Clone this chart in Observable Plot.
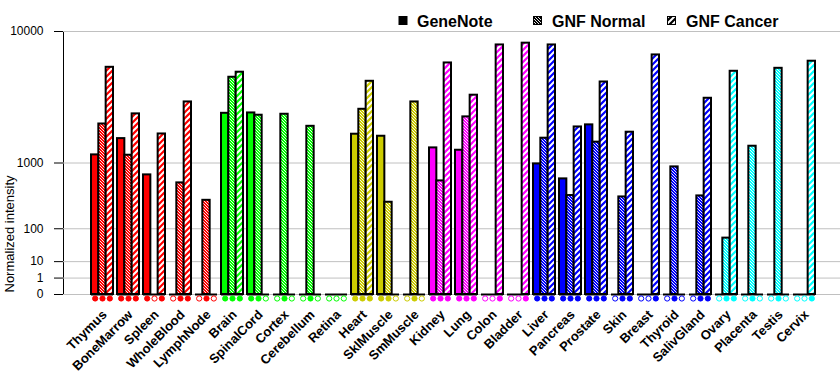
<!DOCTYPE html>
<html><head><meta charset="utf-8">
<script src="https://cdn.jsdelivr.net/npm/d3@7"></script>
<script src="https://cdn.jsdelivr.net/npm/@observablehq/plot@0.6"></script>
<style>
body{margin:0;background:#fff;}
#wrap{position:relative;width:840px;height:385px;font-family:"Liberation Sans",Arial,sans-serif;}
#wrap svg.leg{position:absolute;left:0;top:0;}
</style></head><body><div id="wrap"></div>
<script>
// ---- data ----
const tissues = ["Thymus","BoneMarrow","Spleen","WholeBlood","LymphNode","Brain","SpinalCord","Cortex","Cerebellum","Retina","Heart","SklMuscle","SmMuscle","Kidney","Lung","Colon","Bladder","Liver","Pancreas","Prostate","Skin","Breast","Thyroid","SalivGland","Ovary","Placenta","Testis","Cervix"];
const tissueColors = ["#ff0000","#ff0000","#ff0000","#ff0000","#ff0000","#00ff00","#00ff00","#00ff00","#00ff00","#00ff00","#cccc00","#cccc00","#cccc00","#ff00ff","#ff00ff","#ff00ff","#ff00ff","#0000ff","#0000ff","#0000ff","#0000ff","#0000ff","#0000ff","#0000ff","#00ffff","#00ffff","#00ffff","#00ffff"];
const geneNote  = [1220,1760,730,0,0,2900,2920,0,0,0,1930,1850,0,1435,1360,0,0,977,652,2330,0,0,0,0,0,0,0,0];
const gnfNormal = [2370,1210,0,580,330,5300,2800,2850,2265,0,3120,308,3550,615,2715,0,0,1775,389,1630,371,0,905,384,60,1490,6060,0];
const gnfCancer = [6150,2870,1940,3550,0,5720,0,0,0,0,4980,0,0,6550,3980,8400,8600,8400,2236,4925,2011,7335,0,3780,5800,0,0,6715];
// present calls (filled marker = 1, hollow = 0)
const presGeneNote  = [1,1,1,0,0,1,1,0,0,0,1,1,0,1,1,0,0,1,1,1,0,0,0,0,0,0,0,0];
const presGnfNormal = [1,1,0,1,1,1,1,1,1,0,1,1,1,1,1,0,0,1,1,1,1,0,1,1,1,1,1,0];
const presGnfCancer = [1,1,1,1,0,1,0,0,0,0,1,0,0,1,1,1,1,1,1,1,1,1,0,1,1,0,0,1];
const series = ["GeneNote","GNF Normal","GNF Cancer"];
const yTicks = [0,1,10,100,1000,10000];
const yLabel = "Normalized intensity";

// ---- patterns ----
const keyOf = c => c.replace("#","");
const defSvg = d3.create("svg").attr("width",0).attr("height",0).style("position","absolute");
const defs = defSvg.append("defs");
function addPatterns(color){
  const k = keyOf(color);
  const pn = defs.append("pattern").attr("id","n-"+k).attr("patternUnits","userSpaceOnUse").attr("width",3).attr("height",3);
  pn.append("rect").attr("width",3).attr("height",3).attr("fill",color);
  pn.append("path").attr("d","M-0.5,-0.5L3.5,3.5M2.5,-0.5L3.5,0.5M-0.5,2.5L0.5,3.5").attr("stroke","#fff").attr("stroke-width",0.9);
  const pc = defs.append("pattern").attr("id","c-"+k).attr("patternUnits","userSpaceOnUse").attr("width",6).attr("height",6);
  pc.append("rect").attr("width",6).attr("height",6).attr("fill",color);
  pc.append("path").attr("d","M-1,7L7,-1M-1,1L1,-1M5,7L7,5").attr("stroke","#fff").attr("stroke-width",2);
}
[...new Set(tissueColors), "#000000"].forEach(addPatterns);

const rows = tissues.map((t,i)=>({
  tissue:t, color:tissueColors[i],
  gn:geneNote[i], nn:gnfNormal[i], cc:gnfCancer[i],
  p0:presGeneNote[i], p1:presGnfNormal[i], p2:presGnfCancer[i]
}));

// ---- layout ----
const xRange = [88.3, 817], padIn = 0.16;
const step = (xRange[1]-xRange[0])/(tissues.length - padIn);
const bw = step*(1-padIn), w = bw/3;

const barOpts = (field, fillFn, k) => ({
  x: "tissue", y: field, fill: fillFn, stroke: "black", strokeWidth: 2,
  insetLeft: k*w, insetRight: (2-k)*w
});
const dotOpts = (pfield, k) => ({
  x: "tissue", frameAnchor: "bottom", dx: (k-1)*w, dy: 4, r: 2.6,
  fill: d => d[pfield] ? d.color : "white", stroke: "color", strokeWidth: 1
});

const chart = Plot.plot({
  width: 840, height: 385,
  marginLeft: 63, marginRight: 0, marginTop: 31, marginBottom: 91,
  style: {fontFamily: '"Liberation Sans", Arial, sans-serif', fontSize: "12px", background: "white", overflow: "visible"},
  x: {type: "band", domain: tissues, range: xRange, paddingInner: padIn, paddingOuter: 0, align: 0.5, axis: null},
  y: {type: "pow", exponent: Math.log10(2), domain: [0, 10000], ticks: yTicks, tickSize: 9, tickPadding: 11,
      tickFormat: d => String(d), label: null, line: true},
  color: {type: "identity"},
  marks: [
    Plot.ruleY(yTicks, {stroke: "#c0c0c0", strokeWidth: 1}),
    Plot.barY(rows, barOpts("gn", d => d.color, 0)),
    Plot.barY(rows, barOpts("nn", d => "url(#n-" + keyOf(d.color) + ")", 1)),
    Plot.barY(rows, barOpts("cc", d => "url(#c-" + keyOf(d.color) + ")", 2)),
    Plot.tickY(rows, {x: "tissue", y: () => 0, stroke: "black", strokeWidth: 2}),
    Plot.dot(rows, dotOpts("p0", 0)),
    Plot.dot(rows, dotOpts("p1", 1)),
    Plot.dot(rows, dotOpts("p2", 2)),
    Plot.text(tissues, {x: d => d, text: d => d, frameAnchor: "bottom", rotate: -45, textAnchor: "end",
      fontWeight: "bold", fontSize: 13, dx: 5, dy: 21, fill: "black"}),
    Plot.text([yLabel], {text: d => d, frameAnchor: "bottom-left", rotate: -90, textAnchor: "start",
      fontSize: 13, dx: -49.5, dy: -2, fill: "black"})
  ]
});

const wrap = document.getElementById("wrap");
wrap.appendChild(defSvg.node());
wrap.appendChild(chart);

// ---- legend ----
const legX = [398, 533, 667];
const leg = d3.create("svg").attr("class","leg").attr("width",840).attr("height",31);
series.forEach((s,i)=>{
  const g = leg.append("g").attr("transform",`translate(${legX[i]},0)`);
  if (i===0) g.append("rect").attr("x",0.5).attr("y",16).attr("width",9).attr("height",9).attr("fill","#000");
  else g.append("rect").attr("x",0.5).attr("y",16.5).attr("width",8).attr("height",8)
        .attr("fill", i===1 ? "url(#n-000000)" : "url(#c-000000)").attr("stroke","#000").attr("stroke-width",1);
  g.append("text").attr("x",19).attr("y",26.5).attr("font-size",16).attr("font-weight","bold")
    .attr("font-family",'"Liberation Sans", Arial, sans-serif').text(s);
});
wrap.appendChild(leg.node());
</script></body></html>
